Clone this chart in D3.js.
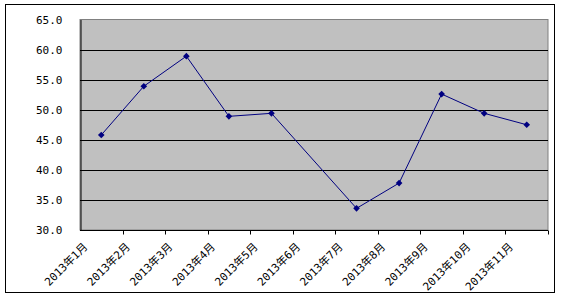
<!DOCTYPE html>
<html>
<head>
<meta charset="utf-8">
<script src="https://cdn.jsdelivr.net/npm/d3@7"></script>
<style>
body { margin: 0; background: #fff; }
text { font-family: "DejaVu Sans Mono", "Noto Sans CJK SC", monospace; font-size: 11px; fill: #000; }
</style>
</head>
<body>
<div id="chart"></div>
<script>
// chart data
var months = ["2013年1月", "2013年2月", "2013年3月", "2013年4月", "2013年5月", "2013年6月",
	"2013年7月", "2013年8月", "2013年9月", "2013年10月", "2013年11月"];
var values = [45.8, 53.9, 58.9, 48.9, 49.4, null, 33.6, 37.8, 52.6, 49.4, 47.5];
var yTicks = [30, 35, 40, 45, 50, 55, 60, 65];

var width = 565, height = 298;
var plotLeft = 80, plotRight = 548, plotTop = 19.5, plotBottom = 230;

var svg = d3.select("#chart").append("svg")
	.attr("width", width)
	.attr("height", height);

// outer frame
svg.append("rect")
	.attr("x", 5.5).attr("y", 4.5)
	.attr("width", 549).attr("height", 288)
	.attr("fill", "#fff")
	.attr("stroke", "#000");

var x = d3.scaleBand()
	.domain(months)
	.range([plotLeft, plotRight]);

var y = d3.scaleLinear()
	.domain([30, 65])
	.range([plotBottom, plotTop]);

// plot area
svg.append("rect")
	.attr("x", plotLeft).attr("y", plotTop)
	.attr("width", plotRight - plotLeft).attr("height", plotBottom - plotTop)
	.attr("fill", "#c0c0c0")
	.attr("stroke", "#808080");

// gridlines
svg.selectAll(".grid")
	.data(yTicks.filter(function(d) { return d > 30 && d < 65; }))
	.enter()
	.append("line")
	.attr("x1", plotLeft).attr("x2", plotRight)
	.attr("y1", function(d) { return Math.round(y(d)) + 0.5; })
	.attr("y2", function(d) { return Math.round(y(d)) + 0.5; })
	.attr("stroke", "#000");

// y axis
var yAxis = svg.append("g")
	.attr("transform", "translate(" + (plotLeft + 0.5) + ",0)")
	.call(d3.axisLeft(y).tickValues(yTicks).tickSize(0).tickPadding(18)
		.tickFormat(d3.format(".1f")));
yAxis.select(".domain").attr("stroke", "#000");
yAxis.selectAll("text").style("font-family", "DejaVu Sans Mono").style("font-size", "11px");

// x axis, ticks between categories
var xAxis = svg.append("g")
	.attr("transform", "translate(0," + (Math.round(plotBottom) + 0.5) + ")");
xAxis.append("line")
	.attr("x1", plotLeft).attr("x2", plotRight)
	.attr("stroke", "#000");
xAxis.selectAll(".tick")
	.data(months)
	.enter()
	.append("line")
	.attr("x1", function(d) { return Math.round(x(d) + x.bandwidth()) + 0.5; })
	.attr("x2", function(d) { return Math.round(x(d) + x.bandwidth()) + 0.5; })
	.attr("y1", 0).attr("y2", 4)
	.attr("stroke", "#000");
xAxis.selectAll(".label")
	.data(months)
	.enter()
	.append("text")
	.attr("text-anchor", "end")
	.attr("transform", function(d) {
		var cx = x(d) + x.bandwidth() / 2;
		return "translate(" + (cx - 13) + ",17) rotate(-45)";
	})
	.text(function(d) { return d; });

// line and markers
var pts = months.map(function(m, i) { return { m: m, v: values[i] }; })
	.filter(function(d) { return d.v != null; });

var line = d3.line()
	.x(function(d) { return x(d.m) + x.bandwidth() / 2; })
	.y(function(d) { return y(d.v); });

svg.append("path")
	.datum(pts)
	.attr("d", line)
	.attr("fill", "none")
	.attr("stroke", "#000080")
	.attr("stroke-width", 1);

// square diamonds
svg.selectAll(".pt")
	.data(pts)
	.enter()
	.append("path")
	.attr("d", d3.symbol().type(d3.symbolSquare).size(22))
	.attr("transform", function(d) {
		return "translate(" + (x(d.m) + x.bandwidth() / 2) + "," + y(d.v) + ") rotate(45)";
	})
	.attr("fill", "#000080");
</script>
</body>
</html>
